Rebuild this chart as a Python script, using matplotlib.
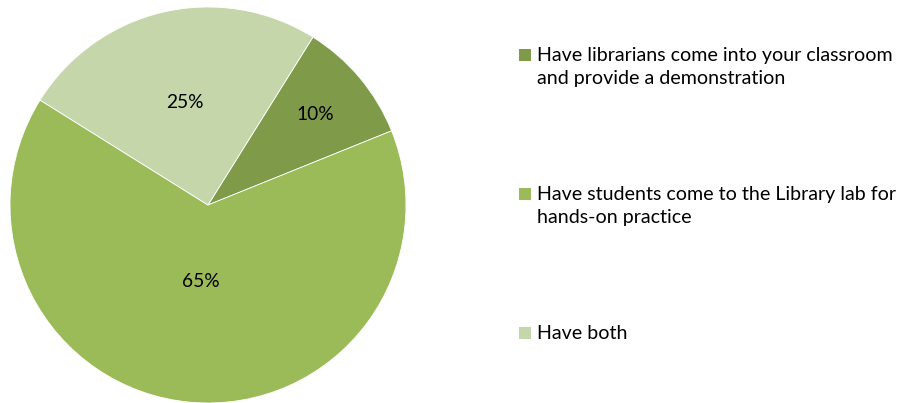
import matplotlib.pyplot as plt
from matplotlib.patches import Rectangle
import numpy as np

labels = ['Have librarians come into your classroom\nand provide a demonstration',
          'Have students come to the Library lab for\nhands-on practice',
          'Have both']
shares = [10, 65, 25]
colors = ['#7F9B4A', '#9BBB59', '#C5D6AB']
label_radius = [0.71, 0.39, 0.53]

plt.rcParams['font.family'] = ['Lato', 'DejaVu Sans']

W, H = 898, 403
fig = plt.figure(figsize=(W / 100, H / 100), dpi=100)
ax = fig.add_axes([10 / W, 0, 396 / W, 396 / H])

wedges, _ = ax.pie(shares, colors=colors, startangle=58, counterclock=False,
                   radius=1, wedgeprops=dict(linewidth=0.6, edgecolor='white'))
ax.set_xlim(-1, 1)
ax.set_ylim(-1, 1)
ax.set_aspect('equal')
ax.axis('off')

# percentage labels at each wedge's mid angle
for w, s, r in zip(wedges, shares, label_radius):
    ang = np.deg2rad((w.theta1 + w.theta2) / 2)
    ax.text(r * np.cos(ang), r * np.sin(ang), f'{s}%', ha='center', va='center',
            fontsize=13.8, color='black')

# legend on the right
for i, (lab, c) in enumerate(zip(labels, colors)):
    y = 55 + i * 139
    fig.patches.append(Rectangle((519 / W, 1 - (y + 6) / H), 12 / W, 12 / H,
                                 transform=fig.transFigure, facecolor=c, edgecolor='none'))
    fig.text(537 / W, 1 - (y - 8) / H, lab, ha='left', va='top', fontsize=14.1,
             linespacing=1.4, color='black')

fig.savefig('out.png', dpi=100, facecolor='white')
